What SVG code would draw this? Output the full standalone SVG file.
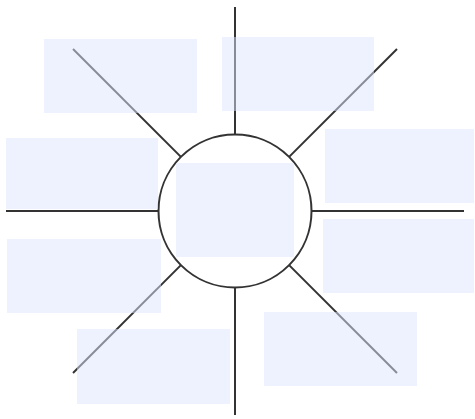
<svg xmlns="http://www.w3.org/2000/svg" width="475" height="419" viewBox="0 0 475 419">
<style>
.c{stroke:#333;stroke-width:2;fill:none;stroke-linecap:butt}
.b{fill:#dce6fd;fill-opacity:0.5}
</style>
<rect width="475" height="419" fill="#fff"/>
<g id="connectors">
<line class="c" x1="235" y1="7" x2="235" y2="134.5"/>
<line class="c" x1="235" y1="287.5" x2="235" y2="415"/>
<line class="c" x1="6" y1="211" x2="158.5" y2="211"/>
<line class="c" x1="311.5" y1="211" x2="464" y2="211"/>
<line class="c" x1="73" y1="49" x2="180.9" y2="156.9"/>
<line class="c" x1="397" y1="49" x2="289.1" y2="156.9"/>
<line class="c" x1="73" y1="373" x2="180.9" y2="265.1"/>
<line class="c" x1="397" y1="373" x2="289.1" y2="265.1"/>
</g>
<g id="hub"><circle class="c" cx="235" cy="211" r="76.5" fill="#fff"/></g>
<g id="center"><rect class="b" x="176" y="163" width="118" height="94"/></g>
<g id="n1"><rect class="b" x="44" y="39" width="153" height="74"/></g>
<g id="n2"><rect class="b" x="222" y="37" width="152" height="74"/></g>
<g id="n3"><rect class="b" x="6" y="138" width="152" height="71"/></g>
<g id="n4"><rect class="b" x="325" y="129" width="149" height="74"/></g>
<g id="n5"><rect class="b" x="7" y="239" width="154" height="74"/></g>
<g id="n6"><rect class="b" x="323" y="219" width="151" height="74"/></g>
<g id="n7"><rect class="b" x="77" y="329" width="153" height="75"/></g>
<g id="n8"><rect class="b" x="264" y="312" width="153" height="74"/></g>
</svg>
